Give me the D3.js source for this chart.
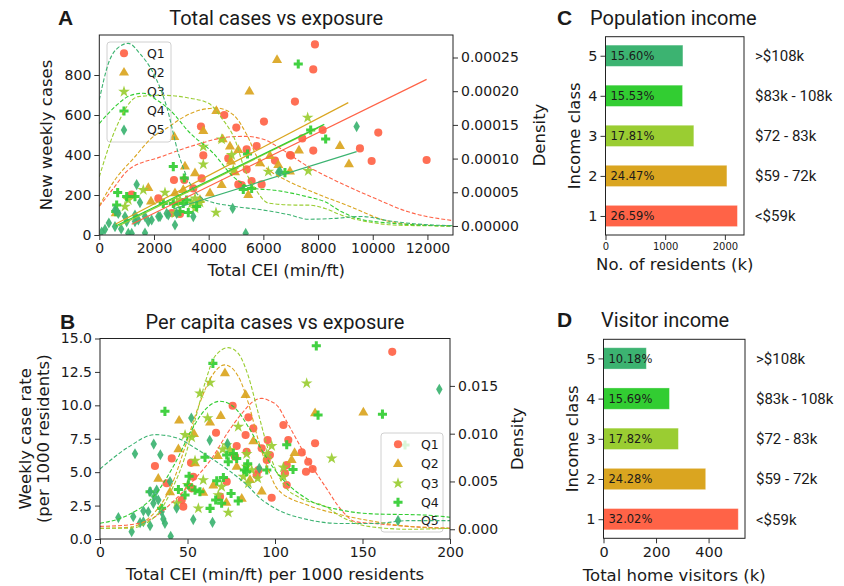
<!DOCTYPE html>
<html>
<head>
<meta charset="utf-8">
<script src="https://cdn.jsdelivr.net/npm/d3@7"></script>
<style>
  body { margin: 0; background: #fff; }
  svg { display: block; }
  text { fill: #1a1a1a; }
</style>
</head>
<body>
<script>
// ---- categories / colours ----
const classes = ['Q1', 'Q2', 'Q3', 'Q4', 'Q5'];
const colors = ['#FF6347', '#DAA520', '#9ACD32', '#32CD32', '#3CB371'];

// ---- panel A: total CEI vs new weekly cases ----
const totalQ1 = [[4570,600],[6022,567],[5010,537],[3718,542],[3803,398],[2731,275],[3108,275],[3743,283],[2158,183],[1184,202],[5388,428],[5754,445],[4717,383],[5084,253],[5388,328],[5571,270],[5937,253],[6424,372],[2650,110],[2950,105],[7155,667],[6973,400],[3437,233],[7887,953],[7825,828],[8168,525],[7423,483],[10202,512],[9532,433],[7825,422],[7009,397],[9960,370],[11970,375],[5206,250]];
const totalQ2 = [[6500,875],[5490,717],[4280,620],[3803,520],[2742,490],[4512,478],[4779,442],[5082,425],[4815,367],[5876,358],[1792,235],[2768,208],[3071,225],[3682,175],[4475,250],[4962,313],[5448,200],[6973,317],[7301,422],[8800,445],[9130,353],[6545,350],[6241,395],[1890,167],[600,108],[3133,342],[3499,308],[4048,208]];
const totalQ3 = [[3803,353],[4475,478],[4840,400],[6180,317],[4267,112],[2402,212],[1609,225],[940,142],[1060,175],[2830,158],[3378,158],[3499,183],[4900,325],[2768,108],[3499,133],[7620,587],[7642,320],[3803,442],[2950,175],[3682,162]];
const totalQ4 = [[2706,342],[3108,285],[5420,405],[5265,228],[5571,233],[672,212],[1001,192],[635,150],[600,117],[2706,158],[3071,158],[2950,117],[3254,112],[1306,192],[3194,175],[3560,142],[2340,158],[7276,855],[7730,525],[8278,480],[6790,312]];
const totalQ5 = [[1366,252],[1488,162],[208,28],[88,15],[574,42],[1060,8],[1305,67],[1671,92],[1792,67],[2220,92],[2768,50],[2830,108],[3437,92],[940,92],[695,108],[574,125],[1001,67],[1305,100],[2523,100],[2158,92],[4877,133],[5354,8],[1184,8],[6607,317],[9411,542],[6545,312],[1915,75],[1427,75],[2464,108],[1671,10],[350,60],[800,30]];

// fitted lines, [x0, y0, x1, y1] per class
const totalFits = [[1184,54,11970,778],[600,55,9105,662],[700,45,8000,535],[600,45,8228,553],[2700,130,9411,417]];

// density curves, [x, density]
const totalDensQ1 = [[0,0.000029],[500,0.000055],[1060,0.000083],[2281,0.000103],[3499,0.00012],[4717,0.000132],[5327,0.000133],[6058,0.000128],[6424,0.00012],[7642,0.000088],[8860,0.000063],[10080,0.000041],[11300,0.000021],[12930,0.000008]];
const totalDensQ2 = [[0,0.00003],[600,0.00007],[1245,0.0001],[1900,0.00013],[2464,0.000145],[3100,0.000162],[3682,0.000172],[4292,0.000175],[4900,0.000165],[5400,0.000135],[5800,0.0001],[6300,0.00008],[6735,0.00007],[7948,0.000048],[9167,0.000029],[10390,0.000009],[11500,0.000002],[12930,0]];
const totalDensQ3 = [[0,0.000073],[574,0.000142],[1426,0.000192],[2281,0.000194],[3255,0.00019],[4000,0.000182],[4475,0.00016],[4960,0.000128],[5327,0.000083],[5693,0.000056],[6180,0.000034],[7155,0.000031],[7642,0.000031],[8250,0.000026],[8860,0.000016],[9840,0.000006],[11000,0.000001],[12930,0]];
const totalDensQ4 = [[0,0.000152],[600,0.000178],[1100,0.000193],[1609,0.000197],[2100,0.000187],[2584,0.000172],[3316,0.000138],[4168,0.000108],[4900,0.000073],[5632,0.000056],[6424,0.000053],[7642,0.000043],[8250,0.000036],[8860,0.000021],[9470,0.000011],[10690,0.000004],[11900,0.000001],[12930,0]];
const totalDensQ5 = [[0,0.000187],[330,0.000241],[700,0.000265],[1060,0.000271],[1500,0.000255],[1975,0.000227],[2464,0.000177],[2890,0.000108],[3255,0.000068],[3865,0.000039],[4960,0.000029],[5937,0.000024],[6900,0.000017],[7642,0.00001],[8500,0.000011],[9594,0.000014],[10690,0.000007],[11910,0.000002],[12930,0.0000005]];

const totalTicksX = [0, 2000, 4000, 6000, 8000, 10000, 12000];
const totalTicksY = [0, 200, 400, 600, 800];
const totalTicksDens = [0, 0.00005, 0.0001, 0.00015, 0.0002, 0.00025];

// ---- panel B: per capita ----
const capQ1 = [[75.8,9.97],[84.8,9.1],[87.6,8.28],[66.3,7.95],[83.2,7.78],[95.8,7.4],[78.1,6.96],[83.8,6.53],[92.4,6.78],[52,5.7],[41,6.03],[31.4,5.46],[77.1,6.16],[90.5,5.16],[89.5,4.79],[98.1,3.09],[47.6,2.42],[46.7,2.92],[38.1,4.17],[52.4,3.79],[53.3,4.66],[72.4,4.29],[68.6,3.17],[95.3,5.91],[104.8,8.53],[107.6,7.4],[105.7,4.91],[106.7,4.04],[167,14.0],[122.9,7.16],[115.3,6.48],[119,5.78],[117.7,5.03],[121.5,5.24],[106.7,5.53],[97.1,6.28]];
const capQ2 = [[71.4,12.4],[83.2,10.77],[69,9.2],[62.9,8.7],[53.7,7.85],[45.2,8.85],[44.8,6.7],[87.6,7.3],[67.3,6.2],[78.1,5.4],[33.3,4.5],[40,3.5],[64.8,4.0],[59,3.45],[72.2,2.7],[81,3.0],[92.4,3.55],[85.7,4.4],[111.2,6.43],[109.5,5.9],[122.9,9.4],[150.5,9.45],[54.3,5.66]];
const capQ3 = [[62.9,11.7],[57.1,10.9],[52.4,7.6],[61.5,9.05],[79,8.4],[72.4,7.03],[70.1,6.71],[83.8,6.36],[98.1,6.96],[95.3,6.36],[81.9,4.66],[86.7,5.16],[59,4.41],[50.1,4.04],[54.3,5.86],[56.2,2.29],[73.3,1.97],[90.1,4.54],[43.8,2.67],[67.6,3.29],[48.6,7.78],[74.3,6.66],[69.5,3.91],[83.8,5.41],[84.8,4.16],[104.8,4.66],[118.1,11.65],[132.4,6.03],[104.8,5.35]];
const capQ4 = [[64.5,13.14],[37.1,9.55],[60,6.11],[72.4,6.28],[76.2,6.4],[73.3,5.78],[84.4,5.63],[82.5,5.16],[83.8,5.03],[50.9,4.7],[44.8,3.7],[28.6,3.54],[35.2,2.29],[66.7,4.35],[70.5,4.6],[66.1,2.92],[62.9,2.29],[69.5,2.67],[74.9,3.4],[79,2.85],[54.3,3.66],[78.1,6.03],[48.6,3.29],[57.1,3.54],[95.3,5.16],[106.7,7.05],[110.3,5.2],[123.6,14.45],[124.6,9.27],[161.4,9.34],[174.3,7.03],[50.5,4.04]];
const capQ5 = [[20,6.38],[30.7,7.1],[34.5,6.3],[52.2,9.05],[62.7,7.38],[72.9,7.13],[91,5.29],[31,3.17],[30.5,2.67],[27.6,2.04],[22.9,1.22],[19,1.67],[18.1,0.55],[10.5,1.6],[28.6,1.0],[36.2,1.5],[37.1,1.17],[40,4.3],[43.8,2.3],[53.3,1.45],[64.3,1.25],[40.4,0.2],[32.4,3.66],[35.2,2.04],[24.8,2.1],[28.6,3.54],[33.3,2.92],[193.9,11.2],[170.5,1.42],[24.8,1.29]];

const capDensQ1 = [[0,0.0003],[16.2,0.00045],[31.4,0.0013],[42.9,0.0031],[54.3,0.0053],[63.8,0.0074],[73.3,0.0102],[81,0.0121],[88.6,0.0135],[92.4,0.0137],[96.2,0.0135],[101.9,0.0128],[105.7,0.0116],[111.4,0.0097],[119,0.0072],[128.6,0.0045],[138,0.002],[145.7,0.0008],[157,0.0006],[176,0.0003],[200,0.0001]];
const capDensQ2 = [[0,0.0001],[16.2,0.0002],[31.4,0.0018],[40.9,0.0046],[48.6,0.0086],[56.2,0.0128],[63.8,0.016],[71.4,0.0172],[79,0.016],[84.8,0.0132],[90.5,0.0093],[96.2,0.0062],[101.9,0.0041],[119,0.0025],[138,0.0015],[157,0.0008],[176,0.0003],[200,0.0001]];
const capDensQ3 = [[0,0.0001],[16.2,0.0001],[31.4,0.0013],[40.9,0.0041],[48.6,0.0076],[54.3,0.0114],[60,0.0153],[65.7,0.0181],[73.3,0.019],[79,0.0184],[84.8,0.016],[90.5,0.0121],[96.2,0.0083],[100,0.0064],[105.7,0.0045],[115.2,0.0032],[128.6,0.0024],[138,0.0013],[153.3,0.0003],[176,0],[200,0.0001]];
const capDensQ4 = [[0,0.00063],[16.2,0.0015],[31.4,0.0036],[42.9,0.0069],[52.4,0.0104],[60,0.0125],[68.6,0.0134],[77.1,0.0127],[84.8,0.0107],[92.4,0.0083],[100,0.0062],[119,0.0031],[138,0.002],[157,0.0016],[184,0.0015],[200,0.00126]];
const capDensQ5 = [[0,0.0063],[16.2,0.0086],[31.4,0.0099],[44.7,0.0095],[54.3,0.0085],[63.8,0.0074],[73.3,0.0062],[82.9,0.0048],[92.4,0.0031],[102,0.002],[119,0.001],[138,0.0006],[157,0.0006],[176,0.0009],[200,0.0009]];

const capTicksX = [0, 50, 100, 150, 200];
const capTicksY = [0, 2.5, 5, 7.5, 10, 12.5, 15];
const capTicksDens = [0, 0.005, 0.01, 0.015];

// ---- panels C / D: income bars ----
const incomeClass = [1, 2, 3, 4, 5];
const incomeLabels = ['<$59k', '$59 - 72k', '$72 - 83k', '$83k - 108k', '>$108k'];
const residents = [2210, 2034, 1480, 1291, 1297];
const residentsPct = ['26.59%', '24.47%', '17.81%', '15.53%', '15.60%'];
const visitors = [513, 389, 285, 251, 163];
const visitorsPct = ['32.02%', '24.28%', '17.82%', '15.69%', '10.18%'];
const residentsTicks = [0, 1000, 2000];
const visitorsTicks = [0, 200, 400];

const totalSeries = [totalQ1, totalQ2, totalQ3, totalQ4, totalQ5];
const totalDens = [totalDensQ1, totalDensQ2, totalDensQ3, totalDensQ4, totalDensQ5];
const capSeries = [capQ1, capQ2, capQ3, capQ4, capQ5];
const capDens = [capDensQ1, capDensQ2, capDensQ3, capDensQ4, capDensQ5];

const svg = d3.select('body').append('svg').attr('width', 844).attr('height', 586);
const FONT = "'DejaVu Sans', sans-serif";
const shapes = [d3.symbolCircle, d3.symbolTriangle, d3.symbolStar, d3.symbolCross, d3.symbolDiamond];
const shapeSize = [52, 44, 42, 46, 36];

function styleAxis(g, size) {
  g.select('.domain').remove();
  g.selectAll('.tick line').attr('stroke', '#333');
  g.selectAll('.tick text').attr('font-family', FONT).attr('font-size', size).attr('fill', '#1a1a1a');
}

function marker(sel, i) {
  sel.attr('d', d3.symbol(shapes[i], shapeSize[i])()).attr('fill', colors[i]).attr('fill-opacity', 0.92);
}

function legend(g, box, rows, mx, tx) {
  g.append('rect').attr('x', box[0]).attr('y', box[1]).attr('width', box[2]).attr('height', box[3])
    .attr('rx', 3).attr('fill', '#fff').attr('fill-opacity', 0.8).attr('stroke', '#d0d0d0');
  classes.forEach((c, i) => {
    g.append('path').attr('transform', `translate(${mx},${rows[i]})`).call(marker, i);
    g.append('text').attr('x', tx).attr('y', rows[i]).attr('dy', '0.35em')
      .attr('font-family', FONT).attr('font-size', 12.5).text(c);
  });
}

function scatterPanel(o) {
  const g = svg.append('g');
  const x = d3.scaleLinear().domain(o.xDomain).range([o.left, o.right]);
  const y = d3.scaleLinear().domain(o.yDomain).range([o.bottom, o.top]);
  const y2 = d3.scaleLinear().domain(o.dDomain).range([o.bottom, o.top]);

  g.append('clipPath').attr('id', o.id).append('rect')
    .attr('x', o.left).attr('y', o.top).attr('width', o.right - o.left).attr('height', o.bottom - o.top);
  const plot = g.append('g').attr('clip-path', `url(#${o.id})`);

  o.series.forEach((pts, i) => {
    plot.selectAll(null).data(pts).join('path')
      .attr('transform', (d) => `translate(${x(d[0])},${y(d[1])})`)
      .call(marker, i);
  });

  if (o.fits) {
    o.fits.forEach((f, i) => {
      plot.append('line').attr('x1', x(f[0])).attr('y1', y(f[1])).attr('x2', x(f[2])).attr('y2', y(f[3]))
        .attr('stroke', colors[i]).attr('stroke-width', 1.2);
    });
  }

  legend(g, o.legendBox, o.legendRows, o.legendBox[0] + 17, o.legendBox[0] + 40);

  const line = d3.line().x((d) => x(d[0])).y((d) => y2(d[1])).curve(d3.curveMonotoneX);
  const dens = g.append('g').attr('clip-path', `url(#${o.id})`);
  o.dens.forEach((c, i) => {
    dens.append('path').attr('d', line(c)).attr('fill', 'none').attr('stroke', colors[i])
      .attr('stroke-width', 1.1).attr('stroke-dasharray', '4,2');
  });

  g.append('g').attr('transform', `translate(0,${o.bottom})`)
    .call(d3.axisBottom(x).tickValues(o.xTicks).tickSize(5).tickPadding(3).tickFormat(d3.format('d')))
    .call(styleAxis, 14);
  g.append('g').attr('transform', `translate(${o.left},0)`)
    .call(d3.axisLeft(y).tickValues(o.yTicks).tickSize(5).tickPadding(3).tickFormat(o.yFormat))
    .call(styleAxis, 14);
  g.append('g').attr('transform', `translate(${o.right},0)`)
    .call(d3.axisRight(y2).tickValues(o.dTicks).tickSize(5).tickPadding(3).tickFormat(o.dFormat))
    .call(styleAxis, 14);

  g.append('rect').attr('x', o.left).attr('y', o.top).attr('width', o.right - o.left).attr('height', o.bottom - o.top)
    .attr('fill', 'none').attr('stroke', '#222').attr('stroke-width', 1);

  const cx = (o.left + o.right) / 2;
  g.append('text').attr('x', cx).attr('y', o.top - 10).attr('text-anchor', 'middle')
    .attr('font-family', 'Roboto, sans-serif').attr('font-size', 20).text(o.title);
  g.append('text').attr('x', o.letterX).attr('y', o.top - 10)
    .attr('font-family', "'Liberation Sans', Arial, sans-serif").attr('font-weight', 'bold').attr('font-size', 21).text(o.letter);
  g.append('text').attr('x', cx).attr('y', o.bottom + 41).attr('text-anchor', 'middle')
    .attr('font-family', FONT).attr('font-size', 16.5).text(o.xLabel);
  o.yLabel.forEach((t, k) => {
    g.append('text').attr('transform', `translate(${o.yLabelX[k]},${(o.top + o.bottom) / 2}) rotate(-90)`)
      .attr('text-anchor', 'middle').attr('dy', '0.35em')
      .attr('font-family', FONT).attr('font-size', 16.5).text(t);
  });
  g.append('text').attr('transform', `translate(${o.dLabelX},${(o.top + o.bottom) / 2}) rotate(-90)`)
    .attr('text-anchor', 'middle').attr('dy', '0.35em')
    .attr('font-family', FONT).attr('font-size', 16.5).text('Density');
}

scatterPanel({
  id: 'clipA', left: 99.3, right: 453, top: 35, bottom: 235,
  xDomain: [0, 12935], yDomain: [0, 1000], dDomain: [-0.0000134, 0.0002834],
  series: totalSeries, fits: totalFits, dens: totalDens,
  xTicks: totalTicksX, yTicks: totalTicksY, dTicks: totalTicksDens,
  yFormat: d3.format('d'), dFormat: (d) => d.toFixed(5),
  legendBox: [107, 42, 64, 100], legendRows: [53.3, 72.7, 91.7, 111, 130],
  title: 'Total cases vs exposure', letter: 'A', letterX: 58,
  xLabel: 'Total CEI (min/ft)', yLabel: ['New weekly cases'], yLabelX: [46], dLabelX: 539,
});

scatterPanel({
  id: 'clipB', left: 100, right: 450, top: 338.5, bottom: 539,
  xDomain: [0, 200], yDomain: [0, 15], dDomain: [-0.00102, 0.01996],
  series: capSeries, fits: null, dens: capDens,
  xTicks: capTicksX, yTicks: capTicksY, dTicks: capTicksDens,
  yFormat: (d) => d.toFixed(1), dFormat: (d) => d.toFixed(3),
  legendBox: [381, 433, 62, 99], legendRows: [444.3, 464, 483.3, 502.3, 520.7],
  title: 'Per capita cases vs exposure', letter: 'B', letterX: 60,
  xLabel: 'Total CEI (min/ft) per 1000 residents', yLabel: ['Weekly case rate', '(per 1000 residents)'],
  yLabelX: [25, 43], dLabelX: 517,
});

function barPanel(o) {
  const g = svg.append('g');
  const x = d3.scaleLinear().domain([0, d3.max(o.values) * 1.05]).range([o.left, o.right]);
  const y = d3.scaleLinear().domain([0.525, 5.475]).range([o.bottom, o.top]);
  const bh = y(0) - y(0.53);

  g.selectAll(null).data(incomeClass).join('rect')
    .attr('x', x(0)).attr('y', (d) => y(d) - bh / 2)
    .attr('width', (d, i) => x(o.values[i]) - x(0)).attr('height', bh)
    .attr('fill', (d, i) => colors[i]).attr('stroke', '#fff').attr('stroke-opacity', 0.4).attr('stroke-width', 0.8);

  g.selectAll(null).data(incomeClass).join('text')
    .attr('x', x(0) + 5).attr('y', (d) => y(d)).attr('dy', '0.36em')
    .attr('font-family', FONT).attr('font-size', 11.5).attr('fill', '#222')
    .text((d, i) => o.pct[i]);

  g.selectAll(null).data(incomeClass).join('text')
    .attr('x', o.right + 11).attr('y', (d) => y(d)).attr('dy', '0.36em')
    .attr('font-family', 'Roboto, sans-serif').attr('font-size', 15)
    .text((d, i) => incomeLabels[i]);

  g.append('g').attr('transform', `translate(0,${o.bottom})`)
    .call(d3.axisBottom(x).tickValues(o.ticks).tickSize(5).tickPadding(3).tickFormat(d3.format('d')))
    .call(styleAxis, o.tickFont);
  g.append('g').attr('transform', `translate(${o.left},0)`)
    .call(d3.axisLeft(y).tickValues(incomeClass).tickSize(5).tickPadding(3).tickFormat(d3.format('d')))
    .call(styleAxis, 14.5);

  g.append('rect').attr('x', o.left).attr('y', o.top).attr('width', o.right - o.left).attr('height', o.bottom - o.top)
    .attr('fill', 'none').attr('stroke', '#222').attr('stroke-width', 1);

  g.append('text').attr('x', o.titleX).attr('y', o.top - 12)
    .attr('font-family', 'Roboto, sans-serif').attr('font-size', 20).text(o.title);
  g.append('text').attr('x', 557).attr('y', o.top - 12)
    .attr('font-family', "'Liberation Sans', Arial, sans-serif").attr('font-weight', 'bold').attr('font-size', 21).text(o.letter);
  g.append('text').attr('x', (o.left + o.right) / 2).attr('y', o.bottom + o.xLabelOffset).attr('text-anchor', 'middle')
    .attr('font-family', FONT).attr('font-size', 16.5).text(o.xLabel);
  g.append('text').attr('transform', `translate(${o.left - 31},${(o.top + o.bottom) / 2}) rotate(-90)`)
    .attr('text-anchor', 'middle').attr('dy', '0.35em')
    .attr('font-family', FONT).attr('font-size', 16.5).text('Income class');
}

barPanel({
  left: 605.5, right: 744, top: 36.7, bottom: 235,
  values: residents, pct: residentsPct, ticks: residentsTicks, tickFont: 10,
  title: 'Population income', titleX: 590, letter: 'C', xLabel: 'No. of residents (k)', xLabelOffset: 35,
});

barPanel({
  left: 603.5, right: 745, top: 339.3, bottom: 538.3,
  values: visitors, pct: visitorsPct, ticks: visitorsTicks, tickFont: 14.5,
  title: 'Visitor income', titleX: 601, letter: 'D', xLabel: 'Total home visitors (k)', xLabelOffset: 43,
});
</script>
</body>
</html>
